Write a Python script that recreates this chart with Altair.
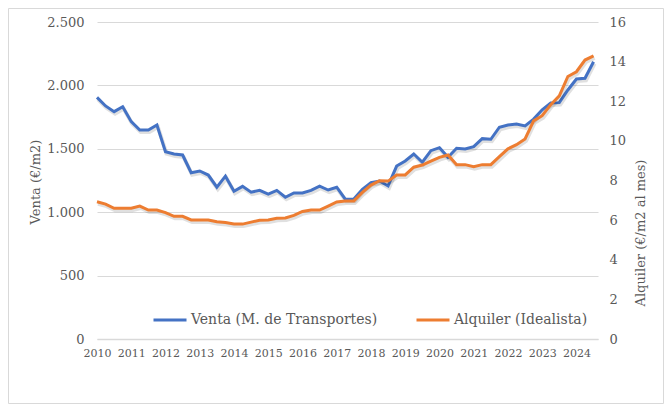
import altair as alt
import pandas as pd

# Quarterly periods 2010T1 .. 2024T3 (decimal year at start of each quarter)
anios = list(range(2010, 2025))
trimestres = [0.0, 0.25, 0.5, 0.75]
periodo = [a + t for a in anios for t in trimestres][:59]

venta = [1906, 1838, 1793, 1832, 1714, 1648, 1648, 1688,
         1477, 1459, 1451, 1311, 1325, 1293, 1197, 1284,
         1165, 1204, 1158, 1172, 1143, 1172, 1118, 1152,
         1152, 1172, 1205, 1175, 1197, 1103, 1104, 1180,
         1233, 1246, 1207, 1364, 1404, 1459, 1394, 1485,
         1509, 1433, 1504, 1498, 1517, 1580, 1575, 1670,
         1688, 1695, 1680, 1734, 1808, 1862, 1864, 1964,
         2050, 2056, 2187]

alquiler = [6.93, 6.81, 6.60, 6.60, 6.60, 6.71, 6.51, 6.51,
            6.38, 6.19, 6.19, 6.01, 6.01, 6.01, 5.92, 5.88,
            5.80, 5.80, 5.90, 5.99, 6.01, 6.09, 6.11, 6.24,
            6.44, 6.51, 6.51, 6.71, 6.92, 6.97, 6.97, 7.40,
            7.77, 7.99, 7.97, 8.28, 8.28, 8.67, 8.78, 8.98,
            9.17, 9.29, 8.80, 8.80, 8.70, 8.80, 8.80, 9.20,
            9.60, 9.81, 10.10, 11.01, 11.27, 11.83, 12.27, 13.25,
            13.49, 14.08, 14.29]

series = ["Venta (M. de Transportes)", "Alquiler (Idealista)"]
colores = ["#4472C4", "#ED7D31"]
ticks_venta = [0, 500, 1000, 1500, 2000, 2500]
ticks_alquiler = [0, 2, 4, 6, 8, 10, 12, 14, 16]
ticks_x = anios

df_v = pd.DataFrame({"t": periodo, "valor": venta, "serie": series[0]})
df_a = pd.DataFrame({"t": periodo, "valor": alquiler, "serie": series[1]})

FONT = "DejaVu Serif"
GREY = "#595959"
W, H = 501, 317

xenc = alt.X("t:Q",
             scale=alt.Scale(domain=[2010, 2024.63], nice=False, zero=False),
             axis=alt.Axis(values=ticks_x, format="d", title=None, grid=False,
                           ticks=False, domainColor="#D9D9D9", domainWidth=1.5,
                           labelFontSize=11, labelColor=GREY, labelFont=FONT,
                           labelPadding=8, labelFlush=False, labelOverlap=False))

color = alt.Color("serie:N",
                  scale=alt.Scale(domain=series, range=colores),
                  legend=alt.Legend(orient="none", legendX=55, legendY=280,
                                    direction="horizontal", columns=2, title=None,
                                    symbolType="stroke", symbolSize=1089,
                                    symbolStrokeWidth=3, labelFont=FONT,
                                    labelFontSize=14, labelColor=GREY,
                                    columnPadding=32, labelOffset=3,
                                    labelLimit=400))

shadow = dict(color="#000000", opacity=0.12, strokeWidth=4, xOffset=1, yOffset=2)

yv_scale = alt.Scale(domain=[0, 2500], nice=False)
ya_scale = alt.Scale(domain=[0, 16], nice=False)

ax_v = alt.Axis(values=ticks_venta, orient="left",
                labelExpr="replace(format(datum.value, ','), ',', '.')",
                title="Venta (€/m2)", grid=True, gridColor="#D9D9D9",
                gridWidth=1, ticks=False, domain=False,
                labelPadding=13, labelFontSize=13, labelColor=GREY,
                labelFont=FONT, titleFont=FONT, titleFontSize=13,
                titleFontWeight="normal", titleColor=GREY,
                titleAngle=270, titleX=-62, titleY=159.5,
                titleBaseline="middle")
ax_a = alt.Axis(values=ticks_alquiler, orient="right",
                title="Alquiler (€/m2 al mes)", grid=False,
                ticks=False, domain=False,
                labelPadding=11, labelFontSize=13, labelColor=GREY,
                labelFont=FONT, titleFont=FONT, titleFontSize=13,
                titleFontWeight="normal", titleColor=GREY,
                titleAngle=270, titleX=42.5, titleY=210.5,
                titleBaseline="middle")

yv = alt.Y("valor:Q", scale=yv_scale, axis=ax_v)
ya = alt.Y("valor:Q", scale=ya_scale, axis=ax_a)

venta_sh = alt.Chart(df_v).mark_line(**shadow).encode(x=xenc, y=yv)
venta_ln = alt.Chart(df_v).mark_line(strokeWidth=3).encode(x=xenc, y=yv, color=color)

alq_sh = alt.Chart(df_a).mark_line(**shadow).encode(x=xenc, y=ya)
alq_ln = alt.Chart(df_a).mark_line(strokeWidth=3).encode(x=xenc, y=ya, color=color)

frame = alt.Chart(alt.Data(values=[{}])).mark_rect(
    fill=None, stroke="#D9D9D9", strokeWidth=1).encode(
    x=alt.value(-88.5), x2=alt.value(W + 65.5),
    y=alt.value(-13.5), y2=alt.value(H + 64.5))

chart = alt.layer(
    frame,
    alt.layer(venta_sh, venta_ln),
    alt.layer(alq_sh, alq_ln),
).resolve_scale(y="independent").properties(
    width=W, height=H,
    padding={"left": 89, "top": 14, "right": 66, "bottom": 65},
    autosize=alt.AutoSizeParams(type="none"),
    background="white",
).configure_view(stroke=None)

chart.save("out.html", embed_options={"renderer": "svg", "actions": False})
